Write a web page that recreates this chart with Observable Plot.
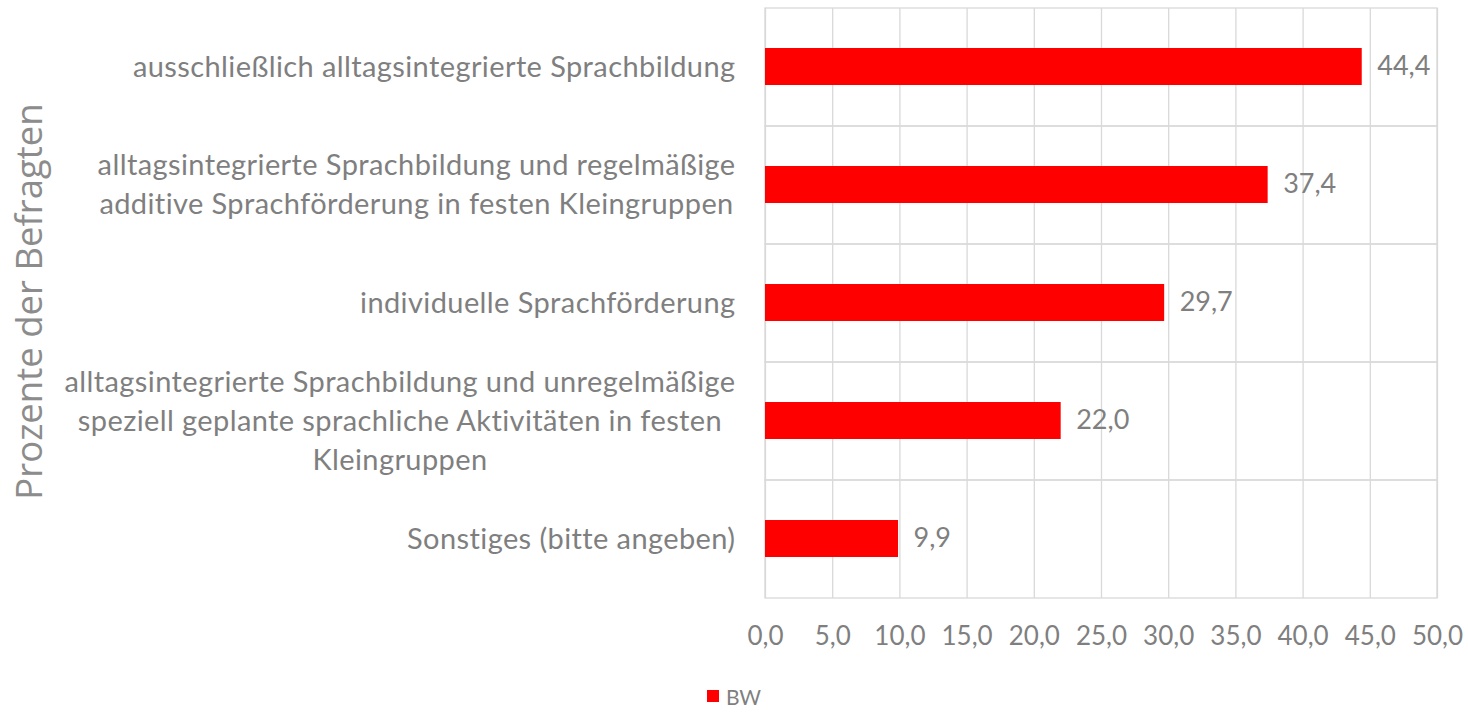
<!DOCTYPE html>
<html>
<head>
<meta charset="utf-8">
<script src="https://cdn.jsdelivr.net/npm/d3@7"></script>
<script src="https://cdn.jsdelivr.net/npm/@observablehq/plot@0.6"></script>
<style>
  html, body { margin: 0; padding: 0; background: #fff; }
  #legend { width: 1468px; height: 32px; display: flex; justify-content: center; align-items: center; font-family: Lato, sans-serif; font-size: 21px; color: #7f7f7f; }
  #legend .sw { width: 12px; height: 12px; background: #ff0000; margin-right: 7px; }
</style>
</head>
<body>
<div id="chart"></div>
<div id="legend"></div>
<script>
const categories = [
  "ausschließlich alltagsintegrierte Sprachbildung",
  "alltagsintegrierte Sprachbildung und regelmäßige\nadditive Sprachförderung in festen Kleingruppen",
  "individuelle Sprachförderung",
  "alltagsintegrierte Sprachbildung und unregelmäßige\nspeziell geplante sprachliche Aktivitäten in festen\nKleingruppen",
  "Sonstiges (bitte angeben)"
];
const values = [44.4, 37.4, 29.7, 22.0, 9.9];
const xTicks = [0, 5, 10, 15, 20, 25, 30, 35, 40, 45, 50];
const yTitle = "Prozente der Befragten";
const seriesName = "BW";

const fmt = v => v.toFixed(1).replace(".", ",");
const data = categories.map((c, i) => ({category: c, value: values[i]}));
const xMax = xTicks[xTicks.length - 1];

const chart = Plot.plot({
  width: 1468,
  height: 680,
  marginLeft: 765,
  marginRight: 31,
  marginTop: 8,
  marginBottom: 82,
  style: {fontFamily: "Lato, sans-serif", color: "#7f7f7f", background: "white", overflow: "visible"},
  x: {domain: [0, xMax]},
  y: {domain: categories, padding: 0},
  marks: [
    Plot.gridX(xTicks, {stroke: "#d9d9d9", strokeOpacity: 1, strokeWidth: 1.3}),
    Plot.barX(categories, {x: () => xMax, y: d => d, fill: "none", stroke: "#d9d9d9", strokeWidth: 1.3}),
    Plot.barX(data, {x: "value", y: "category", fill: "#ff0000", insetTop: 40, insetBottom: 41}),
    Plot.text(data, {x: "value", y: "category", text: d => fmt(d.value), textAnchor: "start", dx: 15, dy: -1, fontSize: 27, fill: "#7f7f7f"}),
    Plot.axisX({ticks: xTicks, tickFormat: fmt, tickSize: 0, tickPadding: 28, fontSize: 26, label: null}),
    Plot.axisY({tickSize: 0, tickPadding: 30, dy: -3, fontSize: 29, lineHeight: 1.345, label: null}),
    Plot.text([yTitle], {frameAnchor: "left", textAnchor: "middle", dx: -735, dy: -2, rotate: -90, fontSize: 36.5, fontFamily: "Open Sans", fill: "#8c8c8c"})
  ]
});
document.getElementById("chart").appendChild(chart);

// category labels: letter spacing like the original, each block right-aligned with centered lines
const yLabels = chart.querySelector('g[aria-label="y-axis tick label"]');
if (yLabels) {
  yLabels.setAttribute("letter-spacing", "0.4");
  yLabels.querySelectorAll("text").forEach(t => {
    const w = t.getBBox().width;
    t.setAttribute("text-anchor", "middle");
    const tr = t.getAttribute("transform") || "";
    t.setAttribute("transform", tr + ` translate(${-w / 2},0)`);
  });
}

const legend = document.getElementById("legend");
const sw = document.createElement("span"); sw.className = "sw";
const lb = document.createElement("span"); lb.textContent = seriesName;
legend.appendChild(sw); legend.appendChild(lb);
</script>
</body>
</html>
